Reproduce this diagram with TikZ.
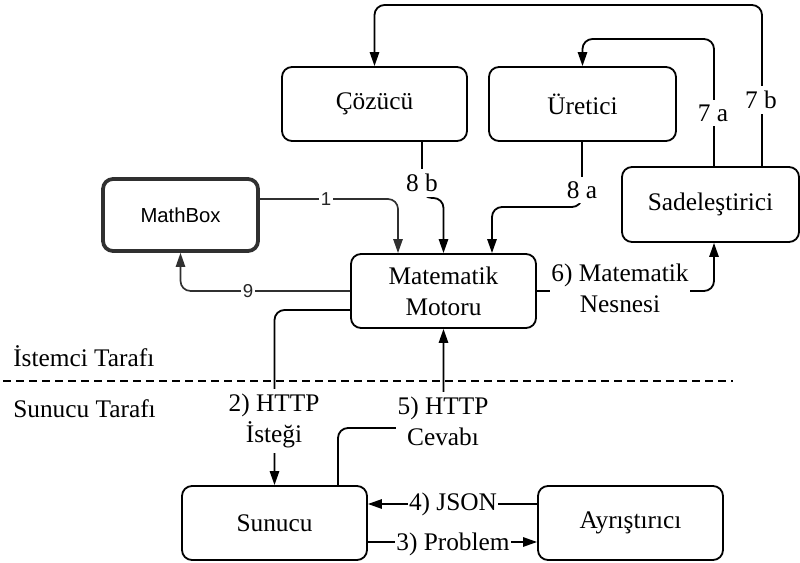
\documentclass[tikz,border=0pt]{standalone}
\usepackage{fontspec}
\setmainfont{Liberation Serif}
\newfontfamily\boxsans{Liberation Sans}
\usetikzlibrary{arrows.meta}
\definecolor{edgegray}{HTML}{303030}
\begin{document}
\begin{tikzpicture}[x=0.75pt,y=-0.75pt,
  box/.style={draw, line width=1.35pt, rounded corners=7.5pt, align=center,
    font=\fontsize{19}{23.25}\selectfont, inner sep=0pt,
    minimum width=138.75pt, minimum height=55.5pt},
  sansbox/.style={draw=edgegray, line width=2.8pt, rounded corners=7.5pt,
    font=\boxsans\fontsize{15.2}{18}\selectfont, inner sep=0pt},
  lbl/.style={fill=white, inner xsep=1pt, inner ysep=3.5pt, align=center,
    font=\fontsize{19}{23.25}\selectfont},
  sanslbl/.style={fill=white, inner xsep=1pt, inner ysep=2pt, text=black!85,
    font=\boxsans\fontsize{14}{16}\selectfont},
  side/.style={anchor=west, inner sep=0pt, font=\fontsize{19}{23.25}\selectfont},
  link/.style={line width=1.35pt, rounded corners=7.5pt,
    -{Triangle[length=10.5pt,width=7pt]}},
  graylink/.style={draw=edgegray, line width=1.25pt, rounded corners=7.5pt,
    -{Triangle[length=10.5pt,width=7pt]}},
]
\useasboundingbox (0,0) rectangle (800,563);

% components
\node[box] (coz) at (374.5,104) {Çözücü};
\node[box, minimum width=140.25pt] (ure) at (582.5,104) {Üretici};
\node[box, minimum width=132.75pt, minimum height=56.25pt] (sad) at (710.5,204.5) {Sadeleştirici};
\node[sansbox, minimum width=116.25pt, minimum height=54pt] (mb) at (180.5,215) {MathBox};
\node[box] (mm) at (443.5,291) {Matematik\\Motoru};
\node[box] (sun) at (274.5,523) {Sunucu};
\node[box] (ayr) at (630.5,523) {Ayrıştırıcı};

% client / server boundary
\draw[line width=1.1pt, dash pattern=on 6pt off 3.75pt] (3,381) -- (733,381);
\node[side] (client) at (13,356) {İstemci Tarafı};
\node[side] (server) at (13,409) {Sunucu Tarafı};

% MathBox <-> engine
\draw[graylink] (mb.east |- 0,199) -| (398,0 |- mm.north);
\node[sanslbl] (l1) at (326,199) {1};
\draw[graylink] (mm.west) -| (mb.south);
\node[sanslbl] (l9) at (248,291) {9};

% solver and generator back to the engine
\draw[link] (422,0 |- coz.south) -- (422,198) -- (mm.north |- 0,198) -- (mm.north);
\node[lbl] (l8b) at (422,183) {8 b};
\draw[link] (582,0 |- ure.south) -- (582,207) -- (492,207) -- (492,0 |- mm.north);
\node[lbl] (l8a) at (582,190) {8 a};

% engine to simplifier
\draw[link] (mm.east) -| (714,0 |- sad.south);
\node[lbl] (l6) at (620,288) {6) Matematik\\Nesnesi};

% simplifier to generator and solver
\draw[link] (714,0 |- sad.north) -- (714,39) -| (ure.north);
\node[lbl] (l7a) at (713,113) {7 a};
\draw[link] (762,0 |- sad.north) -- (762,5) -| (coz.north);
\node[lbl] (l7b) at (761,100) {7 b};

% HTTP request and response
\draw[link] (mm.west |- 0,310) -| (sun.north);
\node[lbl] (l2) at (274,421) {2) HTTP\\İsteği};
\draw[link] (338,0 |- sun.north) -- (338,428) -| (mm.south);
\node[lbl] (l5) at (443,421) {5) HTTP\\Cevabı};

% server <-> parser
\draw[link] (ayr.west |- 0,504) -- (sun.east |- 0,504);
\node[lbl] (l4) at (453,504) {4) JSON};
\draw[link] (sun.east |- 0,542) -- (ayr.west |- 0,542);
\node[lbl] (l3) at (453,544) {3) Problem};
\end{tikzpicture}
\end{document}
